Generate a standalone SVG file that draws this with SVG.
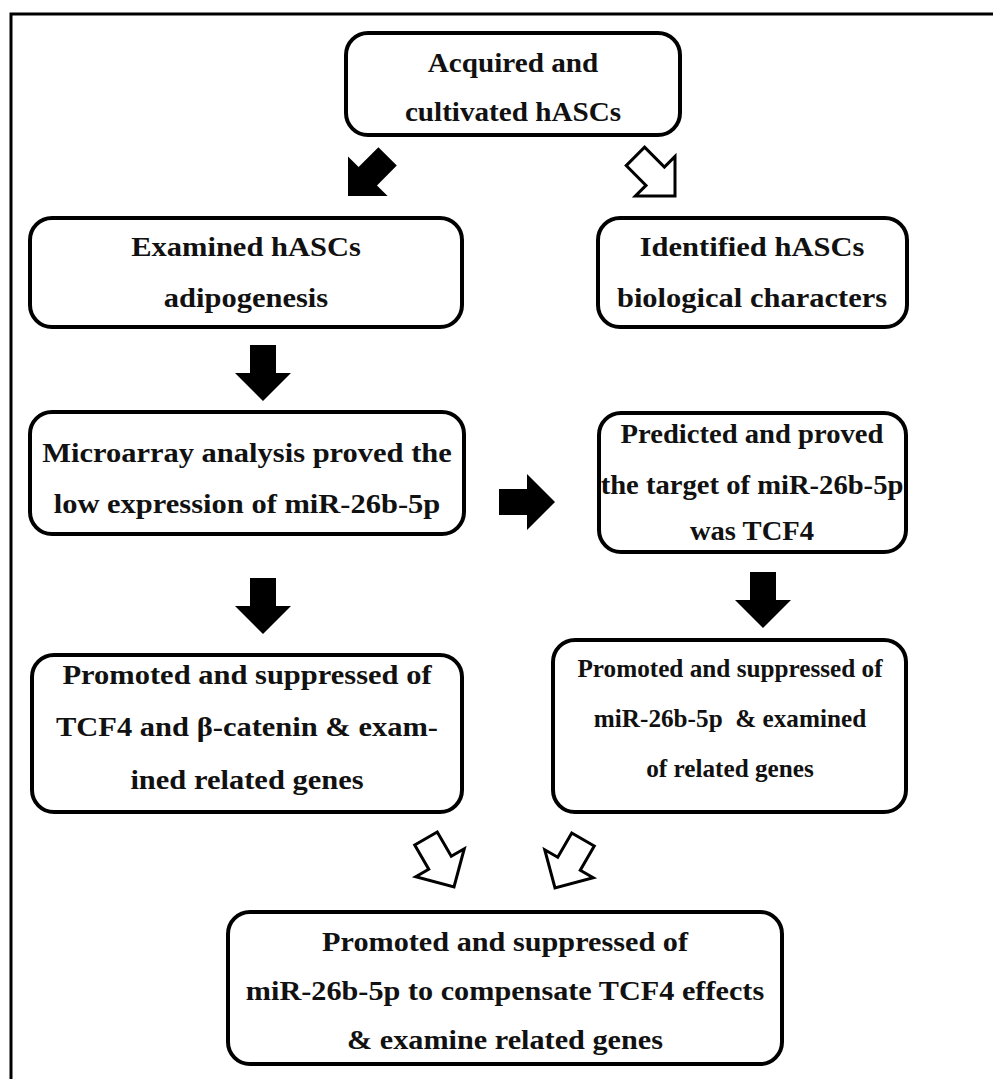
<svg xmlns="http://www.w3.org/2000/svg" xmlns:xlink="http://www.w3.org/1999/xlink" width="993" height="1079" viewBox="0 0 993 1079">
<style>
.box{fill:#fff;stroke:#000;stroke-width:4}
.t{font-family:"Liberation Serif","Times New Roman",serif;font-weight:bold;font-size:27px;fill:#111;text-anchor:middle}
.s{font-size:26px}
.blk{fill:#000}
.wht{fill:#fff;stroke:#000;stroke-width:3;stroke-linejoin:miter}
</style>
<defs>
<path id="arr" d="M-13,-56 L13,-56 L13,-28 L28,-28 L0,0 L-28,-28 L-13,-28 Z"/>
</defs>
<rect width="993" height="1079" fill="#fff"/>
<path d="M11,1079 V14 H993" fill="none" stroke="#000" stroke-width="3"/>
<g id="n1"><rect class="box" x="346" y="33" width="334" height="102" rx="22"/>
<g transform="translate(513,0) scale(1.08,1)"><text class="t" x="0" y="72">Acquired and</text><text class="t" x="0" y="121">cultivated hASCs</text></g></g>
<g id="n2"><rect class="box" x="30" y="218" width="432" height="109" rx="22"/>
<g transform="translate(246,0) scale(1.13,1)"><text class="t" x="0" y="256">Examined hASCs</text><text class="t" x="0" y="307">adipogenesis</text></g></g>
<g id="n3"><rect class="box" x="598" y="218" width="309" height="109" rx="22"/>
<g transform="translate(752,0) scale(1.13,1)"><text class="t" x="0" y="256">Identified hASCs</text><text class="t" x="0" y="307">biological characters</text></g></g>
<g id="n4"><rect class="box" x="30" y="412" width="434" height="122" rx="22"/>
<g transform="translate(247,0) scale(1.13,1)"><text class="t" x="0" y="462">Microarray analysis proved the</text><text class="t" x="0" y="513">low expression of miR-26b-5p</text></g></g>
<g id="n5"><rect class="box" x="599" y="413" width="307" height="139" rx="22"/>
<g transform="translate(752,0) scale(1.06,1)"><text class="t" x="0" y="443">Predicted and proved</text><text class="t" x="0" y="494">the target of miR-26b-5p</text><text class="t" x="0" y="540">was TCF4</text></g></g>
<g id="n6"><rect class="box" x="32" y="655" width="430" height="157" rx="22"/>
<g transform="translate(247,0) scale(1.13,1)"><text class="t" x="0" y="684">Promoted and suppressed of</text><text class="t" x="0" y="736">TCF4 and β-catenin &amp; exam-</text><text class="t" x="0" y="789">ined related genes</text></g></g>
<g id="n7"><rect class="box" x="553" y="640" width="353" height="172" rx="22"/>
<g transform="translate(730,0) scale(0.97,1)"><text class="t s" x="0" y="677">Promoted and suppressed of</text><text class="t s" x="0" y="727" xml:space="preserve">miR-26b-5p  &amp; examined</text><text class="t s" x="0" y="777">of related genes</text></g></g>
<g id="n8"><rect class="box" x="228" y="912" width="554" height="152" rx="22"/>
<g transform="translate(505,0) scale(1.12,1)"><text class="t" x="0" y="951">Promoted and suppressed of</text><text class="t" x="0" y="1000">miR-26b-5p to compensate TCF4 effects</text><text class="t" x="0" y="1049">&amp; examine related genes</text></g></g>
<g id="connectors">
<use xlink:href="#arr" class="blk" transform="translate(348,196) rotate(45)"/>
<use xlink:href="#arr" class="wht" transform="translate(675,196) rotate(-45)"/>
<use xlink:href="#arr" class="blk" transform="translate(263,401)"/>
<use xlink:href="#arr" class="blk" transform="translate(555,502) rotate(-90)"/>
<use xlink:href="#arr" class="blk" transform="translate(263,634)"/>
<use xlink:href="#arr" class="blk" transform="translate(763,628)"/>
<use xlink:href="#arr" class="wht" transform="translate(454,887) rotate(-30)"/>
<use xlink:href="#arr" class="wht" transform="translate(555,888) rotate(30)"/>
</g>
</svg>
